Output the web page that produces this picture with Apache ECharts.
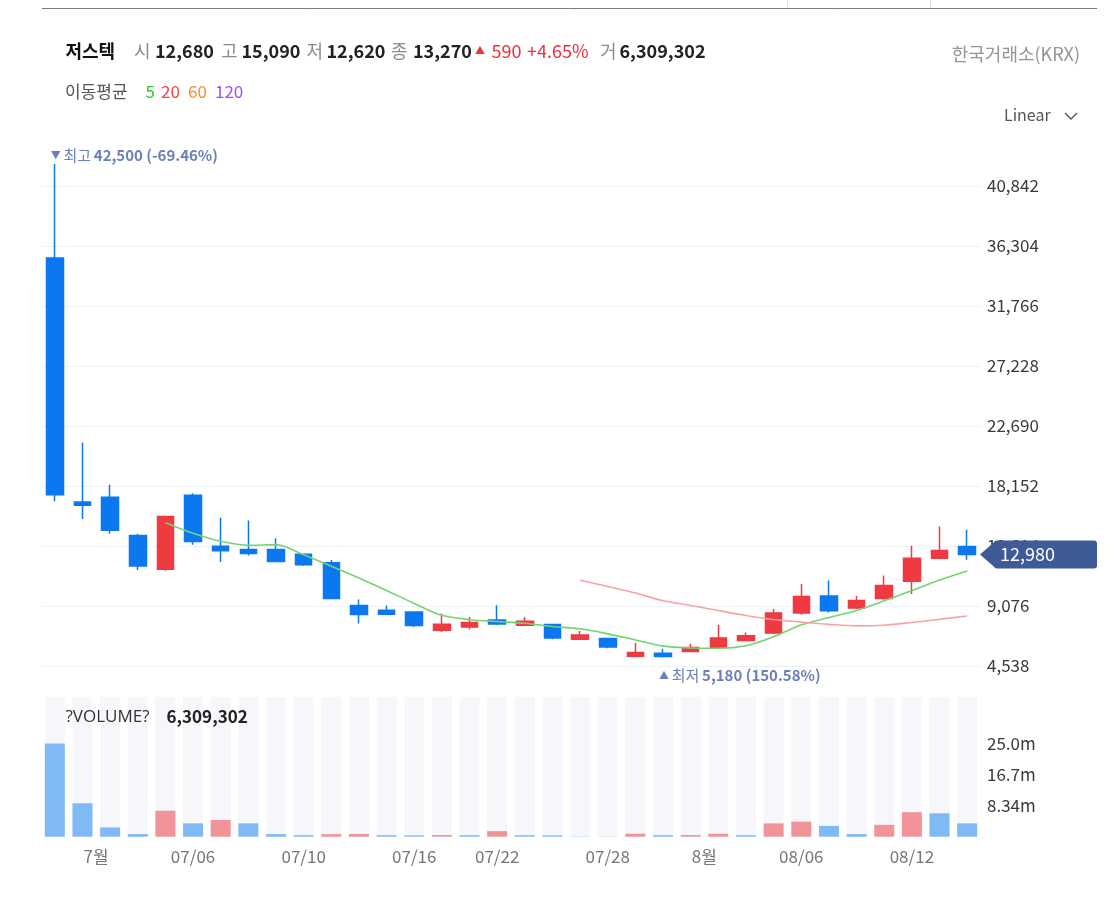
<!DOCTYPE html>
<html><head><meta charset="utf-8">
<script src="https://cdn.jsdelivr.net/npm/echarts@6/dist/echarts.min.js"></script>
<style>html,body{margin:0;padding:0;background:#fff}#c{width:1116px;height:902px}</style>
</head><body><div id="c"></div>
<script>
// ---------- data ----------
const dates = ['06/29','06/30','07/01','07/02','07/03','07/06','07/07','07/08','07/09','07/10',
  '07/13','07/14','07/15','07/16','07/17','07/21','07/22','07/23','07/24','07/27',
  '07/28','07/29','07/30','07/31','08/03','08/04','08/05','08/06','08/07','08/10',
  '08/11','08/12','08/13','08/14'];
const xTickLabels = ['','','7월','','','07/06','','','','07/10',
  '','','','07/16','','','07/22','','','',
  '07/28','','','','8월','','','08/06','','',
  '','08/12','',''];
const monthLabelIdx = [2, 24];
const opens  = [35400,16950,17300,14400,11850,17450,13600,13350,13350,13000,
  12350,9110,8750,8630,7240,7490,8020,7620,7670,6560,
  6610,5270,5510,5630,5930,6470,7030,8540,9830,8920,
  9650,10940,12680,13580];
const closes = [17500,16700,14800,12100,15850,13950,13250,13050,12450,12200,
  9650,8430,8450,7600,7700,7820,7720,7920,6660,6880,
  5980,5550,5250,5930,6650,6820,8540,9800,8720,9500,
  10630,12680,13270,12980];
const lows   = [17000,15650,14550,11800,11750,13700,12400,12900,12400,12100,
  9600,7750,8430,7490,7110,7290,7640,7590,6560,6550,
  5880,5230,5180,5620,5930,6470,6950,8410,8590,8850,
  9550,9980,12620,12580];
const highs  = [42500,21450,18250,14550,15850,17600,15750,15550,14200,13050,
  12550,9570,9110,8630,8510,8250,9130,8250,7700,7190,
  6630,6280,5840,6220,7650,7070,8850,10740,11010,9830,
  11390,13640,15090,14850];
const volumes = [25100000,9000000,2500000,700000,7000000,3600000,4500000,3600000,700000,400000,
  700000,750000,400000,350000,450000,400000,1500000,400000,350000,60000,
  40000,800000,400000,450000,800000,400000,3600000,4050000,2900000,700000,
  3200000,6600000,6309302,3600000];
const ma5 = ['-','-','-','-',15380,14580,13970,13660,13720,12960,
  12090,11200,10250,9270,8370,8040,7900,7770,7530,7350,
  6970,6510,6040,5900,5880,6070,6750,7650,8200,8740,
  9470,10240,11040,11730];
const ma20 = ['-','-','-','-','-','-','-','-','-','-',
  '-','-','-','-','-','-','-','-','-',11030,
  10550,10060,9470,9120,8730,8360,8050,7860,7690,7570,
  7620,7830,8070,8320];
const priceInterval = 4538;
const priceMax = 45080;
const volumeInterval = 8340000;
const volumeMax = 37650000;
const headerIdx = 32;

// ---------- styles ----------
const FONT = '"Noto Sans CJK KR","Noto Sans",sans-serif';
const UP = '#ee3a40', DOWN = '#0b78ef';
const VUP = '#f09499', VDOWN = '#80b9f6';
const MARK = '#6b80b8';

const fmt = v => Math.round(v).toLocaleString('en-US');
const chart = echarts.init(document.getElementById('c'));

const candleData = dates.map((d, i) => [opens[i], closes[i], lows[i], highs[i]]);
const volData = volumes.map((v, i) => ({
  value: v,
  itemStyle: { color: (i === 0 ? closes[i] >= opens[i] : v >= volumes[i - 1]) ? VUP : VDOWN }
}));

chart.setOption({
  animation: false,
  textStyle: { fontFamily: FONT },
  grid: [
    { left: 41, width: 940, top: 130, bottom: 176 },
    { left: 41, width: 940, top: 697, bottom: 65.3 }
  ],
  xAxis: [
    { type: 'category', data: dates, gridIndex: 0, show: false },
    { type: 'category', data: dates, gridIndex: 1,
      axisLine: { show: false }, axisTick: { show: false }, splitLine: { show: false },
      axisLabel: {
        interval: (i) => xTickLabels[i] !== '',
        formatter: (v, i) => monthLabelIdx.indexOf(i) >= 0 ? '{m|' + xTickLabels[i] + '}' : xTickLabels[i],
        color: '#777', fontSize: 17, margin: 11, fontFamily: FONT,
        rich: { m: { padding: [0, 28, 0, 0], color: '#777', fontSize: 17, fontFamily: FONT } }
      } }
  ],
  yAxis: [
    { type: 'value', gridIndex: 0, position: 'right', min: 0, max: priceMax, interval: priceInterval,
      axisLine: { show: false }, axisTick: { show: false },
      splitLine: { lineStyle: { color: '#eef1f6', width: 1 }, showMinLine: false, showMaxLine: false },
      axisLabel: { showMinLabel: false, showMaxLabel: false, formatter: v => fmt(v),
        color: '#3a3a3a', fontSize: 17, margin: 6, fontFamily: FONT } },
    { type: 'value', gridIndex: 1, position: 'right', min: 0, max: volumeMax, interval: volumeInterval,
      axisLine: { show: false }, axisTick: { show: false }, splitLine: { show: false },
      axisLabel: { formatter: v => (v === 0 || v > 30000000) ? '' : (v / 1e6).toPrecision(3) + 'm',
        color: '#3a3a3a', fontSize: 17, margin: 6, fontFamily: FONT } }
  ],
  series: [
    { type: 'candlestick', xAxisIndex: 0, yAxisIndex: 0, data: candleData, barWidth: 17,
      itemStyle: { color: UP, color0: DOWN, borderColor: UP, borderColor0: DOWN, borderWidth: 1.5 } },
    { type: 'line', xAxisIndex: 0, yAxisIndex: 0, data: ma5, smooth: 0.3, symbol: 'none',
      lineStyle: { color: '#74d474', width: 1.6 }, z: 3 },
    { type: 'line', xAxisIndex: 0, yAxisIndex: 0, data: ma20, smooth: 0.3, symbol: 'none',
      lineStyle: { color: '#f7a3a6', width: 1.6 }, z: 3 },
    { type: 'bar', xAxisIndex: 1, yAxisIndex: 1, data: volData, barWidth: 20,
      showBackground: true, backgroundStyle: { color: '#f5f7fb' } }
  ]
});

// ---------- annotations ----------
const last = closes.length - 1;
const maxV = Math.max(...highs), maxI = highs.indexOf(maxV);
const minV = Math.min(...lows), minI = lows.indexOf(minV);
const pMax = chart.convertToPixel({ gridIndex: 0 }, [maxI, maxV]);
const pMin = chart.convertToPixel({ gridIndex: 0 }, [minI, minV]);
const pLast = chart.convertToPixel({ gridIndex: 0 }, [last, closes[last]]);
const pct = (a, b) => ((a / b - 1) * 100).toFixed(2);

function T(x, y, text, o) {
  o = o || {};
  return { type: 'text', x: x, y: y, z: 50, style: {
    text: text, fill: o.c || '#222', fontSize: o.s || 18, fontWeight: o.w || 'normal',
    fontFamily: o.f || FONT, verticalAlign: 'middle', align: o.a || 'left' } };
}
const h = headerIdx;
const chg = closes[h] - closes[h - 1];
const chgPct = (chg / closes[h - 1] * 100).toFixed(2);
const G = '#8c8c8c';
const RED = '#f0303a';
const richMark = {
  t: { fontSize: 10, fill: MARK, fontFamily: FONT },
  a: { fontSize: 15, fill: MARK, fontFamily: FONT },
  b: { fontSize: 15, fill: MARK, fontWeight: 'bold', fontFamily: FONT }
};
const graphics = [
  { type: 'line', z: 50, shape: { x1: 42, y1: 8.5, x2: 1097, y2: 8.5 }, style: { stroke: '#7a7a7a', lineWidth: 1 } },
  { type: 'line', z: 50, shape: { x1: 787.5, y1: 0, x2: 787.5, y2: 8 }, style: { stroke: '#e2e2e2', lineWidth: 1 } },
  { type: 'line', z: 50, shape: { x1: 930.5, y1: 0, x2: 930.5, y2: 8 }, style: { stroke: '#e2e2e2', lineWidth: 1 } },
  T(65.5, 51, '저스텍', { w: 'bold', c: '#111' }),
  T(134, 51, '시', { c: G }), T(155, 51, fmt(opens[h]), { w: 'bold' }),
  T(221, 51, '고', { c: G }), T(241.5, 51, fmt(highs[h]), { w: 'bold' }),
  T(306.5, 51, '저', { c: G }), T(326.5, 51, fmt(lows[h]), { w: 'bold' }),
  T(391, 51, '종', { c: G }), T(413, 51, fmt(closes[h]), { w: 'bold' }),
  T(475, 50, '▲', { c: RED, s: 10 }),
  T(491.5, 51, fmt(chg), { c: RED }),
  T(527, 51, '+' + chgPct + '%', { c: RED }),
  T(600, 51, '거', { c: G }), T(619.5, 51, fmt(volumes[h]), { w: 'bold' }),
  T(65, 92, '이동평균', { c: '#555', s: 17 }),
  T(145.5, 92, '5', { c: '#2fc52f', s: 17 }),
  T(161, 92, '20', { c: '#ff3f48', s: 17 }),
  T(188, 92, '60', { c: '#ff8c22', s: 17 }),
  T(215, 92, '120', { c: '#9a4dff', s: 17 }),
  T(1080, 54, '한국거래소(KRX)', { c: '#959595', s: 18, a: 'right' }),
  T(1004, 115, 'Linear', { c: '#555', s: 16 }),
  { type: 'polyline', z: 50, shape: { points: [[1065, 113], [1071, 119], [1077, 113]] },
    style: { stroke: '#555', lineWidth: 1.4, fill: null } },
  T(65.5, 717, '?VOLUME?', { c: '#333', s: 17, f: '"Open Sans","Noto Sans",sans-serif' }),
  T(166.5, 717, fmt(volumes[h]), { w: 'bold', s: 17, c: '#222' }),
  { type: 'text', z: 50, x: pMax[0] - 4, y: pMax[1] - 9, style: {
      text: '{t|▼} {a|최고} {b|' + fmt(maxV) + ' (' + pct(closes[last], maxV) + '%)}',
      verticalAlign: 'middle', align: 'left', fontFamily: FONT, rich: richMark } },
  { type: 'text', z: 50, x: pMin[0] - 4, y: pMin[1] + 18, style: {
      text: '{t|▲} {a|최저} {b|' + fmt(minV) + ' (' + pct(closes[last], minV) + '%)}',
      verticalAlign: 'middle', align: 'left', fontFamily: FONT, rich: richMark } },
  { type: 'rect', z: 60, shape: { x: 994, y: pLast[1] - 14, width: 103, height: 28, r: 3 }, style: { fill: '#3e5a97' } },
  { type: 'polygon', z: 60, shape: { points: [[980, pLast[1]], [996, pLast[1] - 14], [996, pLast[1] + 14]] }, style: { fill: '#3e5a97' } },
  { type: 'text', z: 61, x: 1000, y: pLast[1], style: { text: fmt(closes[last]), fill: '#fff', fontSize: 18,
      fontFamily: FONT, verticalAlign: 'middle', align: 'left' } }
];
chart.setOption({ graphic: graphics });
</script>
</body></html>
